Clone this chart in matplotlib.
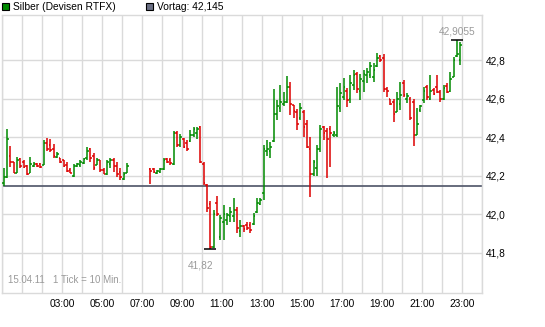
import matplotlib
matplotlib.use("Agg")
import matplotlib.pyplot as plt
from matplotlib.patches import Rectangle
from matplotlib.ticker import FixedLocator, FuncFormatter

# ---- data: 10-minute OHLC bars (Silber, Devisen RTFX, 15.04.11) ----
# slot = index of the 10-minute interval since 00:00
slots_a = list(range(0, 38))
slots_b = list(range(44, 138))
slots = slots_a + slots_b

opens = [
    42.16, 42.19, 42.30, 42.27, 42.215, 42.285, 42.27, 42.25, 42.215, 42.25,
    42.26, 42.26, 42.255, 42.37, 42.36, 42.34, 42.295, 42.29, 42.28, 42.255,
    42.23, 42.20, 42.25, 42.255, 42.265, 42.29, 42.34, 42.30, 42.255, 42.28,
    42.23, 42.21, 42.26, 42.28, 42.25, 42.22, 42.18, 42.215,
    # from 07:20
    42.235, 42.235, 42.215, 42.22, 42.235, 42.285, 42.28, 42.26, 42.42, 42.36,
    42.39, 42.37, 42.38, 42.41, 42.42, 42.45, 42.26, 42.15, 42.05,
    41.83, 42.06, 41.88, 41.96, 41.97, 41.99, 41.99, 42.02, 41.91, 41.94,
    41.945, 41.945, 41.95, 42.01, 42.05,
    42.11, 42.33, 42.33, 42.38, 42.52, 42.55, 42.57, 42.58, 42.66, 42.565,
    42.53, 42.50, 42.53, 42.47, 42.34,
    42.21, 42.24, 42.34, 42.45, 42.43, 42.44, 42.41, 42.41, 42.55, 42.61,
    42.64, 42.60, 42.67, 42.73, 42.64, 42.69, 42.72, 42.72, 42.71, 42.77,
    42.82, 42.81, 42.65, 42.60, 42.58, 42.53, 42.57, 42.68, 42.60, 42.60,
    42.58, 42.41, 42.54, 42.59, 42.66, 42.60, 42.645, 42.66, 42.635, 42.60,
    42.665, 42.64, 42.71, 42.82, 42.80,
]
highs = [
    42.24, 42.442, 42.353, 42.272, 42.298, 42.291, 42.281, 42.255, 42.298, 42.27,
    42.265, 42.265, 42.385, 42.393, 42.39, 42.364, 42.32, 42.29, 42.28, 42.272,
    42.24, 42.26, 42.265, 42.28, 42.29, 42.346, 42.343, 42.317, 42.29, 42.28,
    42.237, 42.28, 42.29, 42.29, 42.27, 42.239, 42.22, 42.263,
    42.24, 42.24, 42.23, 42.24, 42.29, 42.29, 42.29, 42.43, 42.43, 42.415,
    42.395, 42.385, 42.436, 42.453, 42.45, 42.455, 42.27, 42.155, 42.07,
    42.02, 42.094, 41.995, 42.047, 42.005, 42.036, 42.083, 42.036, 41.97, 41.943,
    41.958, 41.958, 42.005, 42.083, 42.083,
    42.36, 42.384, 42.376, 42.648, 42.59, 42.67, 42.635, 42.718, 42.687, 42.566,
    42.545, 42.575, 42.54, 42.488, 42.40,
    42.28, 42.36, 42.462, 42.455, 42.445, 42.46, 42.43, 42.66, 42.68, 42.705,
    42.653, 42.722, 42.748, 42.739, 42.73, 42.748, 42.757, 42.79, 42.783, 42.835,
    42.826, 42.83, 42.66, 42.60, 42.60, 42.635, 42.687, 42.696, 42.627, 42.61,
    42.60, 42.55, 42.566, 42.661, 42.67, 42.722, 42.653, 42.722, 42.644, 42.67,
    42.68, 42.74, 42.817, 42.9055, 42.895,
]
lows = [
    42.147, 42.187, 42.246, 42.211, 42.211, 42.239, 42.239, 42.203, 42.213, 42.245,
    42.245, 42.24, 42.255, 42.327, 42.32, 42.29, 42.29, 42.265, 42.245, 42.22,
    42.213, 42.194, 42.245, 42.245, 42.26, 42.28, 42.27, 42.229, 42.255, 42.22,
    42.206, 42.203, 42.237, 42.22, 42.194, 42.177, 42.177, 42.211,
    42.155, 42.213, 42.21, 42.213, 42.23, 42.265, 42.255, 42.255, 42.35, 42.35,
    42.343, 42.33, 42.375, 42.40, 42.39, 42.263, 42.15, 42.01, 41.82,
    41.825, 41.99, 41.865, 41.865, 41.943, 41.958, 41.958, 41.90, 41.88, 41.906,
    41.917, 41.90, 41.943, 42.005, 42.047,
    42.075, 42.30, 42.29, 42.376, 42.49, 42.53, 42.56, 42.575, 42.514, 42.50,
    42.436, 42.49, 42.40, 42.343, 42.09,
    42.20, 42.20, 42.324, 42.384, 42.185, 42.246, 42.40, 42.40, 42.53, 42.592,
    42.557, 42.575, 42.644, 42.627, 42.592, 42.635, 42.679, 42.705, 42.687, 42.765,
    42.79, 42.635, 42.61, 42.566, 42.48, 42.53, 42.54, 42.61, 42.575, 42.488,
    42.353, 42.41, 42.531, 42.575, 42.592, 42.592, 42.618, 42.627, 42.583, 42.592,
    42.627, 42.635, 42.713, 42.817, 42.774,
]
closes = [
    42.19, 42.39, 42.27, 42.215, 42.28, 42.25, 42.245, 42.21, 42.26, 42.26,
    42.25, 42.245, 42.37, 42.34, 42.335, 42.30, 42.31, 42.27, 42.25, 42.225,
    42.215, 42.25, 42.26, 42.27, 42.285, 42.33, 42.29, 42.24, 42.28, 42.23,
    42.21, 42.27, 42.28, 42.25, 42.21, 42.19, 42.21, 42.25,
    42.225, 42.22, 42.225, 42.235, 42.28, 42.27, 42.265, 42.42, 42.36, 42.40,
    42.35, 42.34, 42.41, 42.44, 42.44, 42.27, 42.16, 42.03, 41.83,
    42.00, 42.00, 41.98, 42.00, 41.995, 42.01, 42.02, 41.93, 41.94, 41.92,
    41.93, 41.915, 41.99, 42.06, 42.075,
    42.34, 42.34, 42.35, 42.52, 42.56, 42.58, 42.58, 42.66, 42.57, 42.535,
    42.47, 42.55, 42.45, 42.35, 42.21,
    42.27, 42.34, 42.44, 42.42, 42.39, 42.42, 42.42, 42.56, 42.63, 42.66,
    42.59, 42.68, 42.72, 42.65, 42.70, 42.73, 42.74, 42.77, 42.75, 42.81,
    42.80, 42.65, 42.64, 42.57, 42.52, 42.60, 42.62, 42.62, 42.615, 42.50,
    42.41, 42.47, 42.56, 42.64, 42.61, 42.64, 42.625, 42.635, 42.60, 42.655,
    42.635, 42.70, 42.80, 42.83, 42.88,
]

prev_close = 42.145
day_low, day_low_label = 41.82, "41,82"
day_high, day_high_label = 42.9055, "42,9055"
y_ticks = [41.8, 42.0, 42.2, 42.4, 42.6, 42.8]
x_label_hours = [3, 5, 7, 9, 11, 13, 15, 17, 19, 21, 23]
title_series = "Silber (Devisen RTFX)"
title_prev = "Vortag: 42,145"
footer = "15.04.11   1 Tick = 10 Min."

GREEN = "#008a00"
RED = "#dd0000"
GRID = "#dadada"
PREV = "#5a6072"
GRAY_TXT = "#9a9a9a"

plt.rcParams["font.family"] = ["Liberation Sans", "DejaVu Sans"]

W, H = 545, 327
fig = plt.figure(figsize=(W / 100, H / 100), dpi=100)
fig.patch.set_facecolor("white")

ax_l, ax_r, ax_t, ax_b = 2, 482, 15, 293
ax = fig.add_axes([ax_l / W, 1 - ax_b / H, (ax_r - ax_l) / W, (ax_b - ax_t) / H])
ax.set_xlim(0, 24)
ax.set_ylim(41.590, 43.034)

# grid
ax.xaxis.set_major_locator(FixedLocator(list(range(0, 25))))
ax.yaxis.set_major_locator(FixedLocator(y_ticks))
ax.grid(True, color=GRID, linewidth=1.0)
ax.set_axisbelow(True)
for s in ax.spines.values():
    s.set_color(GRID)
    s.set_linewidth(1.0)

ax.xaxis.set_major_formatter(
    FuncFormatter(lambda v, p: f"{int(round(v)):02d}:00" if int(round(v)) in x_label_hours else ""))
ax.yaxis.set_major_formatter(FuncFormatter(lambda v, p: f"{v:.1f}".replace(".", ",")))
ax.tick_params(axis="x", length=0, pad=4, labelsize=7.3, colors="black")
ax.tick_params(axis="y", length=0, pad=3, labelsize=7.3, colors="black",
               left=False, right=True, labelleft=False, labelright=True)

# previous close line
ax.axhline(prev_close, color=PREV, linewidth=1.3, zorder=2)

# OHLC bars
tick_len = 0.09
for s, o, h, l, c in zip(slots, opens, highs, lows, closes):
    t = (s + 0.5) / 6.0
    col = GREEN if c >= o else RED
    ax.vlines(t, l, h, colors=col, linewidth=1.1, zorder=3)
    ax.hlines(o, t - tick_len, t, colors=col, linewidth=1.1, zorder=3)
    ax.hlines(c, t, t + tick_len, colors=col, linewidth=1.1, zorder=3)

# low / high markers
low_i = lows.index(day_low)
high_i = highs.index(day_high)
tl = (slots[low_i] + 0.5) / 6.0
th = (slots[high_i] + 0.5) / 6.0
ax.hlines(day_low, tl - 0.3, tl + 0.3, colors="black", linewidth=1.1, zorder=4)
ax.hlines(day_high, th - 0.3, th + 0.3, colors="black", linewidth=1.1, zorder=4)
ax.annotate(day_low_label, (tl, day_low), xytext=(-7, -12), textcoords="offset points",
            ha="center", va="center", fontsize=7.3, color=GRAY_TXT)
ax.annotate(day_high_label, (th, day_high), xytext=(0, 6), textcoords="offset points",
            ha="center", va="center", fontsize=7.3, color=GRAY_TXT)

ax.text(0.013, 0.03, footer, transform=ax.transAxes, ha="left", va="bottom",
        fontsize=7.0, color=GRAY_TXT)

# legend header
fig.patches.append(Rectangle((2 / W, 1 - 10 / H), 7 / W, 7 / H, transform=fig.transFigure,
                             facecolor=GREEN, edgecolor="black", linewidth=0.8))
fig.text(13 / W, 1 - 6.5 / H, title_series, ha="left", va="center", fontsize=7.4, color="black")
fig.patches.append(Rectangle((146 / W, 1 - 10 / H), 7 / W, 7 / H, transform=fig.transFigure,
                             facecolor="#6a6f84", edgecolor="black", linewidth=0.8))
fig.text(157 / W, 1 - 6.5 / H, title_prev, ha="left", va="center", fontsize=7.4, color="black")

fig.savefig("out.png", dpi=100)
